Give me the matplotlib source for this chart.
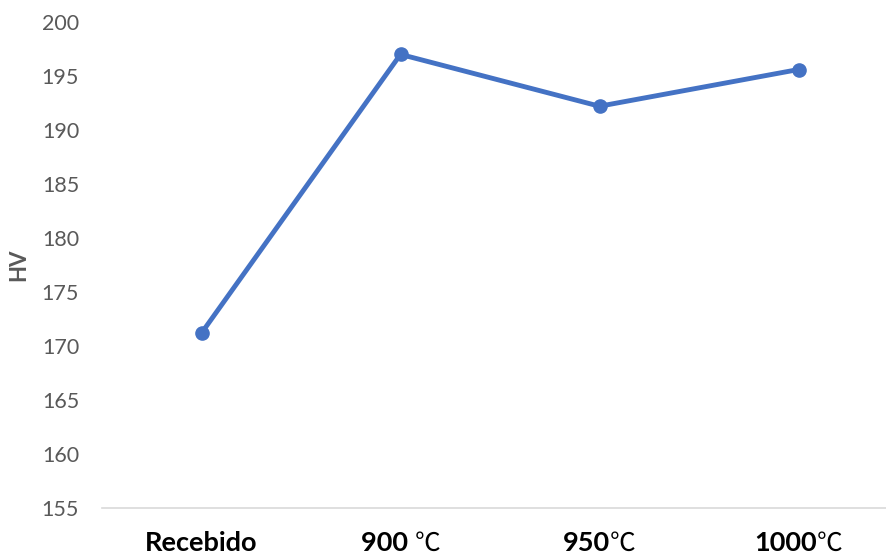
import matplotlib
import matplotlib.pyplot as plt
from matplotlib import transforms

matplotlib.use('Agg')

# data
categories = ['Recebido', '900 ', '950', '1000']
unit_suffix = ['', '℃', '℃', '℃']
hv_values = [171.2, 197.0, 192.2, 195.6]
y_ticks = [155, 160, 165, 170, 175, 180, 185, 190, 195, 200]

plt.rcParams['font.family'] = ['Lato', 'DejaVu Sans']

fig = plt.figure(figsize=(8.87, 5.56), dpi=100)
# plot area runs past the right edge, like the cropped original
ax = fig.add_axes([102 / 887, 48 / 556, 796 / 887, 486 / 556])

x = list(range(len(categories)))
ax.plot(x, hv_values, color='#4472C4', linewidth=3.5, marker='o',
        markersize=9.5, solid_capstyle='round', solid_joinstyle='round')

ax.set_ylim(155, 200)
ax.set_yticks(y_ticks)
ax.set_xlim(-0.5, 3.5)
ax.set_xticks(x)
ax.set_xticklabels([])

for side in ['top', 'right', 'left']:
    ax.spines[side].set_visible(False)
ax.spines['bottom'].set_color('#D9D9D9')
ax.spines['bottom'].set_linewidth(1.2)

ax.tick_params(axis='y', length=0, pad=16.5, labelsize=15.5, labelcolor='#595959')
ax.tick_params(axis='x', length=0)

ax.set_ylabel('HV', fontsize=16, fontweight='bold', color='#595959')
ax.yaxis.set_label_coords(-0.092, 0.5)

# category labels: bold number + thin degree sign, centred as one piece
renderer = fig.canvas.get_renderer()
base = ax.get_xaxis_transform()
for i, (main, suf) in enumerate(zip(categories, unit_suffix)):
    t1 = ax.text(i, 0, main, ha='left', va='baseline', fontsize=19.5,
                 fontweight='bold', color='black', transform=base)
    t2 = ax.text(i, 0, suf, ha='left', va='baseline', fontsize=18.5,
                 color='black', family=['Noto Sans CJK SC', 'DejaVu Sans'],
                 transform=base)
    w1 = t1.get_window_extent(renderer).width
    w2 = t2.get_window_extent(renderer).width if suf else 0
    start = -(w1 + w2) / 2
    t1.set_transform(transforms.offset_copy(base, fig=fig, x=start, y=-43, units='dots'))
    t2.set_transform(transforms.offset_copy(base, fig=fig, x=start + w1, y=-43, units='dots'))

fig.savefig('out.png', dpi=100)
